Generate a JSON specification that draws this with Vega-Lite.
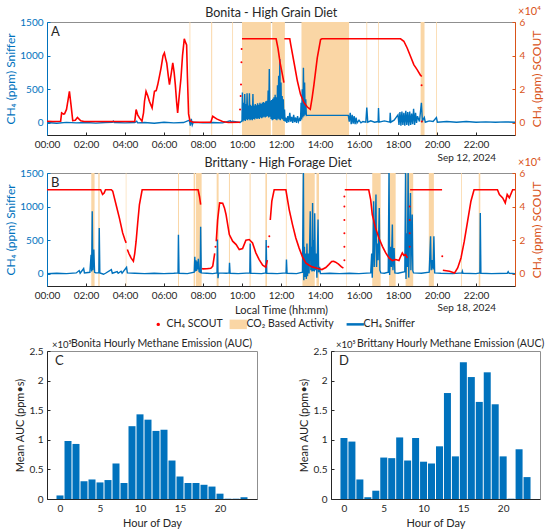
{
  "$schema": "https://vega.github.io/schema/vega-lite/v6.json",
  "padding": {"left": 4, "top": 5, "right": 0, "bottom": 0},
  "background": "white",
  "bounds": "flush",
  "spacing": 0,
  "datasets": {
    "tanA": [
      {"start": 7.31, "end": 7.35}, {"start": 8.42, "end": 8.47}, {"start": 9.5, "end": 9.54},
      {"start": 10.0, "end": 11.48}, {"start": 11.55, "end": 12.2}, {"start": 13.05, "end": 15.49},
      {"start": 16.38, "end": 16.42}, {"start": 16.98, "end": 17.02}, {"start": 19.16, "end": 19.36},
      {"start": 19.95, "end": 19.99}
    ],
    "tanB": [
      {"start": 2.27, "end": 2.44}, {"start": 2.63, "end": 2.7}, {"start": 4.04, "end": 4.07},
      {"start": 6.72, "end": 6.77}, {"start": 7.52, "end": 7.6}, {"start": 7.64, "end": 7.93},
      {"start": 8.7, "end": 8.8}, {"start": 9.33, "end": 9.38}, {"start": 10.39, "end": 10.44},
      {"start": 11.2, "end": 11.28}, {"start": 12.25, "end": 12.29}, {"start": 13.1, "end": 13.73},
      {"start": 13.82, "end": 13.95}, {"start": 15.35, "end": 15.38}, {"start": 16.68, "end": 17.11},
      {"start": 17.54, "end": 17.88}, {"start": 18.39, "end": 18.78}, {"start": 19.58, "end": 19.84},
      {"start": 21.24, "end": 21.28}, {"start": 22.14, "end": 22.22}
    ],
    "snifA": [
      {"t":0,"ppm":5},{"t":0.5,"ppm":-5},{"t":1,"ppm":8},{"t":1.5,"ppm":0},{"t":2,"ppm":5},{"t":2.5,"ppm":-3},{"t":3,"ppm":5},{"t":3.35,"ppm":10},{"t":3.4,"ppm":25},{"t":3.45,"ppm":5},{"t":4,"ppm":0},{"t":4.5,"ppm":5},{"t":4.6,"ppm":25},{"t":4.65,"ppm":0},{"t":5,"ppm":5},{"t":5.5,"ppm":-5},{"t":6,"ppm":10},{"t":6.5,"ppm":0},{"t":7,"ppm":5},{"t":7.3,"ppm":40},{"t":7.35,"ppm":-40},{"t":7.4,"ppm":60},{"t":7.45,"ppm":-30},{"t":7.5,"ppm":10},{"t":8,"ppm":0},{"t":8.5,"ppm":5},{"t":9,"ppm":0},{"t":9.4,"ppm":30},{"t":9.45,"ppm":10},{"t":9.5,"ppm":25},{"t":9.9,"ppm":5},
      {"t":10,"ppm":30},{"t":10.02,"ppm":450},{"t":10.05,"ppm":20},{"t":10.08,"ppm":300},{"t":10.11,"ppm":40},{"t":10.14,"ppm":430},{"t":10.17,"ppm":30},{"t":10.2,"ppm":280},{"t":10.23,"ppm":50},{"t":10.26,"ppm":440},{"t":10.29,"ppm":40},{"t":10.32,"ppm":260},{"t":10.35,"ppm":60},{"t":10.38,"ppm":440},{"t":10.41,"ppm":40},{"t":10.44,"ppm":270},{"t":10.47,"ppm":50},{"t":10.5,"ppm":250},{"t":10.53,"ppm":40},{"t":10.56,"ppm":430},{"t":10.59,"ppm":60},{"t":10.62,"ppm":260},{"t":10.65,"ppm":50},{"t":10.68,"ppm":280},{"t":10.71,"ppm":70},{"t":10.74,"ppm":260},{"t":10.77,"ppm":60},{"t":10.8,"ppm":290},{"t":10.83,"ppm":70},{"t":10.86,"ppm":270},{"t":10.89,"ppm":60},{"t":10.92,"ppm":300},{"t":10.95,"ppm":80},{"t":10.98,"ppm":280},{"t":11.01,"ppm":70},{"t":11.04,"ppm":300},{"t":11.07,"ppm":80},{"t":11.1,"ppm":310},{"t":11.13,"ppm":90},{"t":11.16,"ppm":300},{"t":11.19,"ppm":80},{"t":11.22,"ppm":320},{"t":11.25,"ppm":90},{"t":11.28,"ppm":330},{"t":11.31,"ppm":100},{"t":11.34,"ppm":480},{"t":11.37,"ppm":80},{"t":11.4,"ppm":800},{"t":11.43,"ppm":90},{"t":11.46,"ppm":330},{"t":11.49,"ppm":60},{"t":11.52,"ppm":340},{"t":11.55,"ppm":40},{"t":11.58,"ppm":360},{"t":11.61,"ppm":50},{"t":11.64,"ppm":380},{"t":11.67,"ppm":60},{"t":11.7,"ppm":420},{"t":11.73,"ppm":50},{"t":11.76,"ppm":380},{"t":11.79,"ppm":40},{"t":11.82,"ppm":560},{"t":11.85,"ppm":60},{"t":11.88,"ppm":700},{"t":11.91,"ppm":50},{"t":11.94,"ppm":950},{"t":11.97,"ppm":40},{"t":12,"ppm":600},{"t":12.03,"ppm":60},{"t":12.06,"ppm":400},{"t":12.09,"ppm":50},{"t":12.12,"ppm":350},{"t":12.15,"ppm":30},{"t":12.18,"ppm":200},{"t":12.21,"ppm":20},
      {"t":12.25,"ppm":80},{"t":12.3,"ppm":0},{"t":12.35,"ppm":100},{"t":12.4,"ppm":10},{"t":12.45,"ppm":150},{"t":12.5,"ppm":20},{"t":12.55,"ppm":90},{"t":12.6,"ppm":0},{"t":12.65,"ppm":120},{"t":12.7,"ppm":10},{"t":12.75,"ppm":80},{"t":12.8,"ppm":0},{"t":12.85,"ppm":100},{"t":12.9,"ppm":20},{"t":12.95,"ppm":60},{"t":13,"ppm":30},{"t":13.03,"ppm":300},{"t":13.06,"ppm":50},{"t":13.09,"ppm":500},{"t":13.12,"ppm":80},{"t":13.15,"ppm":820},{"t":13.18,"ppm":100},{"t":13.21,"ppm":600},{"t":13.24,"ppm":120},{"t":13.27,"ppm":350},{"t":13.3,"ppm":110},{"t":13.35,"ppm":112},{"t":15.45,"ppm":112},{"t":15.5,"ppm":20},{"t":15.55,"ppm":150},{"t":15.6,"ppm":-20},{"t":15.65,"ppm":120},{"t":15.7,"ppm":-10},{"t":15.75,"ppm":100},{"t":15.8,"ppm":-20},{"t":15.85,"ppm":80},{"t":15.9,"ppm":0},{"t":16,"ppm":40},{"t":16.1,"ppm":0},{"t":16.2,"ppm":20},{"t":16.35,"ppm":10},{"t":16.4,"ppm":230},{"t":16.45,"ppm":10},{"t":16.6,"ppm":30},{"t":16.8,"ppm":10},{"t":16.98,"ppm":20},{"t":17,"ppm":220},{"t":17.03,"ppm":10},{"t":17.3,"ppm":30},{"t":17.58,"ppm":10},{"t":17.6,"ppm":150},{"t":17.63,"ppm":10},{"t":17.8,"ppm":40},{"t":18,"ppm":120},{"t":18.05,"ppm":-30},{"t":18.1,"ppm":160},{"t":18.15,"ppm":-40},{"t":18.2,"ppm":170},{"t":18.25,"ppm":-30},{"t":18.3,"ppm":150},{"t":18.35,"ppm":-40},{"t":18.4,"ppm":180},{"t":18.45,"ppm":-30},{"t":18.5,"ppm":160},{"t":18.55,"ppm":-40},{"t":18.6,"ppm":170},{"t":18.65,"ppm":-30},{"t":18.7,"ppm":140},{"t":18.75,"ppm":-20},{"t":18.8,"ppm":210},{"t":18.85,"ppm":-30},{"t":18.9,"ppm":150},{"t":18.95,"ppm":0},{"t":19,"ppm":100},{"t":19.1,"ppm":20},{"t":19.2,"ppm":300},{"t":19.25,"ppm":30},{"t":19.35,"ppm":80},{"t":19.4,"ppm":10},{"t":19.6,"ppm":30},{"t":19.8,"ppm":20},{"t":19.97,"ppm":80},{"t":20.02,"ppm":10},{"t":20.5,"ppm":20},{"t":21,"ppm":10},{"t":21.5,"ppm":20},{"t":22,"ppm":10},{"t":22.5,"ppm":15},{"t":23,"ppm":10},{"t":23.5,"ppm":15},{"t":24,"ppm":10}
    ],
    "snifB": [
      {"t":0,"ppm":0},{"t":0.5,"ppm":5},{"t":1,"ppm":0},{"t":1.5,"ppm":10},{"t":1.65,"ppm":45},{"t":1.7,"ppm":5},{"t":1.88,"ppm":75},{"t":1.92,"ppm":10},{"t":2.2,"ppm":20},{"t":2.26,"ppm":280},{"t":2.29,"ppm":30},{"t":2.32,"ppm":930},{"t":2.35,"ppm":50},{"t":2.4,"ppm":360},{"t":2.44,"ppm":20},{"t":2.5,"ppm":10},{"t":2.66,"ppm":10},{"t":2.68,"ppm":680},{"t":2.71,"ppm":10},{"t":2.9,"ppm":-10},{"t":3,"ppm":5},{"t":3.3,"ppm":60},{"t":3.35,"ppm":5},{"t":3.6,"ppm":30},{"t":3.65,"ppm":5},{"t":3.8,"ppm":35},{"t":3.85,"ppm":5},{"t":4.08,"ppm":95},{"t":4.12,"ppm":10},{"t":4.5,"ppm":5},{"t":5,"ppm":0},{"t":5.5,"ppm":5},{"t":6,"ppm":0},{"t":6.5,"ppm":5},{"t":6.72,"ppm":10},{"t":6.74,"ppm":580},{"t":6.77,"ppm":5},{"t":7.2,"ppm":0},{"t":7.55,"ppm":20},{"t":7.58,"ppm":250},{"t":7.61,"ppm":30},{"t":7.64,"ppm":200},{"t":7.67,"ppm":40},{"t":7.7,"ppm":180},{"t":7.73,"ppm":60},{"t":7.76,"ppm":220},{"t":7.8,"ppm":30},{"t":7.86,"ppm":20},{"t":7.88,"ppm":697},{"t":7.91,"ppm":10},{"t":8.2,"ppm":5},{"t":8.5,"ppm":0},{"t":8.72,"ppm":10},{"t":8.74,"ppm":508},{"t":8.77,"ppm":-70},{"t":8.8,"ppm":10},{"t":9.2,"ppm":5},{"t":9.34,"ppm":10},{"t":9.36,"ppm":160},{"t":9.39,"ppm":5},{"t":9.8,"ppm":0},{"t":10.4,"ppm":10},{"t":10.42,"ppm":450},{"t":10.45,"ppm":5},{"t":11,"ppm":0},{"t":11.22,"ppm":10},{"t":11.24,"ppm":500},{"t":11.27,"ppm":5},{"t":11.8,"ppm":0},{"t":12.26,"ppm":10},{"t":12.28,"ppm":210},{"t":12.31,"ppm":5},{"t":12.8,"ppm":0},{"t":13.1,"ppm":20},{"t":13.15,"ppm":1600},{"t":13.17,"ppm":-100},{"t":13.2,"ppm":400},{"t":13.23,"ppm":-50},{"t":13.27,"ppm":300},{"t":13.3,"ppm":-80},{"t":13.33,"ppm":450},{"t":13.36,"ppm":-40},{"t":13.4,"ppm":300},{"t":13.44,"ppm":0},{"t":13.5,"ppm":930},{"t":13.53,"ppm":50},{"t":13.56,"ppm":400},{"t":13.59,"ppm":30},{"t":13.62,"ppm":1054},{"t":13.65,"ppm":40},{"t":13.68,"ppm":500},{"t":13.71,"ppm":30},{"t":13.73,"ppm":900},{"t":13.76,"ppm":50},{"t":13.8,"ppm":300},{"t":13.84,"ppm":-60},{"t":13.9,"ppm":806},{"t":13.93,"ppm":20},{"t":13.98,"ppm":100},{"t":14.02,"ppm":0},{"t":14.5,"ppm":5},{"t":15,"ppm":0},{"t":15.5,"ppm":5},{"t":16,"ppm":0},{"t":16.6,"ppm":10},{"t":16.65,"ppm":300},{"t":16.68,"ppm":-60},{"t":16.72,"ppm":400},{"t":16.75,"ppm":1079},{"t":16.78,"ppm":100},{"t":16.82,"ppm":500},{"t":16.87,"ppm":1179},{"t":16.9,"ppm":100},{"t":16.94,"ppm":450},{"t":16.98,"ppm":200},{"t":17.04,"ppm":979},{"t":17.07,"ppm":50},{"t":17.12,"ppm":10},{"t":17.3,"ppm":5},{"t":17.5,"ppm":20},{"t":17.54,"ppm":1600},{"t":17.57,"ppm":-20},{"t":17.62,"ppm":400},{"t":17.66,"ppm":100},{"t":17.71,"ppm":731},{"t":17.74,"ppm":50},{"t":17.8,"ppm":380},{"t":17.84,"ppm":10},{"t":18,"ppm":5},{"t":18.35,"ppm":30},{"t":18.39,"ppm":1600},{"t":18.41,"ppm":-80},{"t":18.45,"ppm":600},{"t":18.48,"ppm":100},{"t":18.52,"ppm":1600},{"t":18.55,"ppm":-60},{"t":18.6,"ppm":700},{"t":18.64,"ppm":1200},{"t":18.66,"ppm":50},{"t":18.73,"ppm":881},{"t":18.76,"ppm":40},{"t":18.8,"ppm":10},{"t":19.2,"ppm":5},{"t":19.6,"ppm":20},{"t":19.67,"ppm":557},{"t":19.7,"ppm":50},{"t":19.75,"ppm":200},{"t":19.8,"ppm":60},{"t":19.84,"ppm":557},{"t":19.88,"ppm":10},{"t":20.2,"ppm":5},{"t":20.8,"ppm":0},{"t":21.28,"ppm":10},{"t":21.3,"ppm":35},{"t":21.33,"ppm":5},{"t":22,"ppm":0},{"t":22.2,"ppm":10},{"t":22.22,"ppm":905},{"t":22.25,"ppm":5},{"t":22.8,"ppm":0},{"t":23.6,"ppm":5},{"t":23.65,"ppm":30},{"t":23.7,"ppm":5},{"t":24,"ppm":0}
    ],
    "scoutA": [
      {"t":0,"ppm":1000,"seg":"a1"},{"t":0.3,"ppm":800,"seg":"a1"},{"t":0.7,"ppm":1000,"seg":"a1"},{"t":0.75,"ppm":5960,"seg":"a1"},{"t":0.85,"ppm":5200,"seg":"a1"},{"t":0.9,"ppm":5360,"seg":"a1"},{"t":1,"ppm":8000,"seg":"a1"},{"t":1.07,"ppm":12880,"seg":"a1"},{"t":1.15,"ppm":18800,"seg":"a1"},{"t":1.23,"ppm":10880,"seg":"a1"},{"t":1.32,"ppm":1400,"seg":"a1"},{"t":1.45,"ppm":1600,"seg":"a1"},{"t":1.56,"ppm":3200,"seg":"a1"},{"t":1.73,"ppm":1200,"seg":"a1"},{"t":1.9,"ppm":800,"seg":"a1"},{"t":2.5,"ppm":800,"seg":"a1"},{"t":3,"ppm":800,"seg":"a1"},{"t":3.5,"ppm":800,"seg":"a1"},{"t":4,"ppm":800,"seg":"a1"},{"t":4.5,"ppm":800,"seg":"a1"},{"t":4.57,"ppm":7920,"seg":"a1"},{"t":4.65,"ppm":4800,"seg":"a1"},{"t":4.74,"ppm":2960,"seg":"a1"},{"t":4.87,"ppm":1000,"seg":"a1"},{"t":4.95,"ppm":6000,"seg":"a1"},{"t":5,"ppm":12880,"seg":"a1"},{"t":5.08,"ppm":18800,"seg":"a1"},{"t":5.17,"ppm":16000,"seg":"a1"},{"t":5.25,"ppm":12880,"seg":"a1"},{"t":5.39,"ppm":8920,"seg":"a1"},{"t":5.45,"ppm":14000,"seg":"a1"},{"t":5.51,"ppm":18800,"seg":"a1"},{"t":5.6,"ppm":19200,"seg":"a1"},{"t":5.68,"ppm":22800,"seg":"a1"},{"t":5.77,"ppm":28000,"seg":"a1"},{"t":5.85,"ppm":32720,"seg":"a1"},{"t":5.95,"ppm":40000,"seg":"a1"},{"t":6.02,"ppm":41600,"seg":"a1"},{"t":6.08,"ppm":38400,"seg":"a1"},{"t":6.14,"ppm":35640,"seg":"a1"},{"t":6.22,"ppm":28000,"seg":"a1"},{"t":6.28,"ppm":22800,"seg":"a1"},{"t":6.38,"ppm":30000,"seg":"a1"},{"t":6.45,"ppm":35640,"seg":"a1"},{"t":6.52,"ppm":30000,"seg":"a1"},{"t":6.58,"ppm":22800,"seg":"a1"},{"t":6.65,"ppm":12000,"seg":"a1"},{"t":6.7,"ppm":6000,"seg":"a1"},{"t":6.78,"ppm":16000,"seg":"a1"},{"t":6.87,"ppm":26560,"seg":"a1"},{"t":6.95,"ppm":40000,"seg":"a1"},{"t":7.04,"ppm":50000,"seg":"a1"},{"t":7.1,"ppm":48000,"seg":"a1"},{"t":7.16,"ppm":46400,"seg":"a1"},{"t":7.2,"ppm":28000,"seg":"a1"},{"t":7.26,"ppm":5360,"seg":"a1"},{"t":7.33,"ppm":1200,"seg":"a1"},{"t":7.5,"ppm":400,"seg":"a1"},{"t":8,"ppm":400,"seg":"a1"},{"t":8.4,"ppm":400,"seg":"a1"},{"t":8.5,"ppm":3960,"seg":"a1"},{"t":8.7,"ppm":2400,"seg":"a1"},{"t":9,"ppm":800,"seg":"a1"},{"t":9.3,"ppm":200,"seg":"a1"},{"t":9.9,"ppm":400,"seg":"a1"},
      {"t":10,"ppm":50000,"seg":"a2"},{"t":11.75,"ppm":50000,"seg":"a2"},{"t":11.85,"ppm":44000,"seg":"a2"},{"t":11.95,"ppm":36000,"seg":"a2"},{"t":12.05,"ppm":30000,"seg":"a2"},{"t":12.15,"ppm":24000,"seg":"a2"},
      {"t":12.17,"ppm":50000,"seg":"a3"},{"t":12.45,"ppm":50000,"seg":"a3"},{"t":12.5,"ppm":46600,"seg":"a3"},{"t":12.67,"ppm":35760,"seg":"a3"},{"t":12.84,"ppm":24880,"seg":"a3"},{"t":13,"ppm":16960,"seg":"a3"},{"t":13.18,"ppm":12000,"seg":"a3"},{"t":13.35,"ppm":9440,"seg":"a3"},{"t":13.5,"ppm":8080,"seg":"a3"},{"t":13.6,"ppm":15200,"seg":"a3"},{"t":13.69,"ppm":22800,"seg":"a3"},{"t":13.86,"ppm":38640,"seg":"a3"},{"t":14.03,"ppm":49520,"seg":"a3"},{"t":14.1,"ppm":50000,"seg":"a3"},{"t":18.13,"ppm":50000,"seg":"a3"},{"t":18.3,"ppm":48560,"seg":"a3"},{"t":18.47,"ppm":44560,"seg":"a3"},{"t":18.64,"ppm":39640,"seg":"a3"},{"t":18.81,"ppm":34680,"seg":"a3"},{"t":18.98,"ppm":31720,"seg":"a3"},{"t":19.15,"ppm":28360,"seg":"a3"},{"t":19.22,"ppm":27600,"seg":"a3"}
    ],
    "dotsA": [
      {"t":9.9,"ppm":7960},{"t":9.93,"ppm":16000},{"t":9.95,"ppm":22800},{"t":9.97,"ppm":36000},{"t":9.98,"ppm":44000},{"t":19.21,"ppm":22400},{"t":19.22,"ppm":800}
    ],
    "scoutB": [
      {"t":0,"ppm":50000,"seg":"b1"},{"t":2.75,"ppm":50000,"seg":"b1"},{"t":2.85,"ppm":47200,"seg":"b1"},{"t":2.93,"ppm":48000,"seg":"b1"},{"t":3,"ppm":50000,"seg":"b1"},{"t":3.3,"ppm":50000,"seg":"b1"},{"t":3.37,"ppm":49200,"seg":"b1"},{"t":3.54,"ppm":41200,"seg":"b1"},{"t":3.71,"ppm":33240,"seg":"b1"},{"t":3.88,"ppm":24280,"seg":"b1"},{"t":4,"ppm":20000,"seg":"b1"},{"t":4.06,"ppm":18320,"seg":"b1"},
      {"t":4.12,"ppm":14400,"seg":"b2"},{"t":4.2,"ppm":12000,"seg":"b2"},{"t":4.31,"ppm":9360,"seg":"b2"},{"t":4.43,"ppm":7360,"seg":"b2"},{"t":4.5,"ppm":12000,"seg":"b2"},{"t":4.57,"ppm":19320,"seg":"b2"},{"t":4.65,"ppm":30000,"seg":"b2"},{"t":4.74,"ppm":41200,"seg":"b2"},{"t":4.88,"ppm":50000,"seg":"b2"},{"t":7.75,"ppm":50000,"seg":"b2"},{"t":7.82,"ppm":46000,"seg":"b2"},{"t":7.88,"ppm":41200,"seg":"b2"},
      {"t":7.94,"ppm":3000,"seg":"b3"},{"t":8,"ppm":2800,"seg":"b3"},{"t":8.2,"ppm":2880,"seg":"b3"},{"t":8.4,"ppm":3200,"seg":"b3"},{"t":8.5,"ppm":4400,"seg":"b3"},{"t":8.6,"ppm":12000,"seg":"b3"},
      {"t":8.68,"ppm":19320,"seg":"b4"},{"t":8.75,"ppm":32000,"seg":"b4"},{"t":8.85,"ppm":42200,"seg":"b4"},{"t":9.01,"ppm":42000,"seg":"b4"},{"t":9.1,"ppm":39200,"seg":"b4"},{"t":9.18,"ppm":35280,"seg":"b4"},{"t":9.35,"ppm":23280,"seg":"b4"},{"t":9.52,"ppm":19320,"seg":"b4"},{"t":9.7,"ppm":17320,"seg":"b4"},{"t":9.86,"ppm":14320,"seg":"b4"},{"t":10.03,"ppm":14920,"seg":"b4"},{"t":10.2,"ppm":19920,"seg":"b4"},{"t":10.37,"ppm":20320,"seg":"b4"},{"t":10.54,"ppm":18320,"seg":"b4"},{"t":10.71,"ppm":12360,"seg":"b4"},{"t":10.88,"ppm":8360,"seg":"b4"},{"t":11.06,"ppm":4960,"seg":"b4"},{"t":11.22,"ppm":3800,"seg":"b4"},{"t":11.3,"ppm":8000,"seg":"b4"},
      {"t":11.45,"ppm":32000,"seg":"b5"},{"t":11.53,"ppm":43200,"seg":"b5"},{"t":11.65,"ppm":50000,"seg":"b5"},{"t":12.25,"ppm":50000,"seg":"b5"},{"t":12.42,"ppm":38200,"seg":"b5"},{"t":12.59,"ppm":29240,"seg":"b5"},{"t":12.76,"ppm":21240,"seg":"b5"},{"t":12.93,"ppm":15200,"seg":"b5"},{"t":13.1,"ppm":10000,"seg":"b5"},{"t":13.27,"ppm":6320,"seg":"b5"},{"t":13.44,"ppm":4960,"seg":"b5"},{"t":13.6,"ppm":4000,"seg":"b5"},{"t":13.8,"ppm":3360,"seg":"b5"},{"t":14.1,"ppm":2400,"seg":"b5"},{"t":14.3,"ppm":3600,"seg":"b5"},{"t":14.45,"ppm":5360,"seg":"b5"},{"t":14.6,"ppm":7200,"seg":"b5"},{"t":14.7,"ppm":7360,"seg":"b5"},{"t":14.8,"ppm":6800,"seg":"b5"},{"t":14.95,"ppm":5600,"seg":"b5"},{"t":15.1,"ppm":4000,"seg":"b5"},{"t":15.2,"ppm":3360,"seg":"b5"},
      {"t":15.27,"ppm":50000,"seg":"b6"},{"t":16.5,"ppm":50000,"seg":"b6"},{"t":16.6,"ppm":44000,"seg":"b6"},{"t":16.68,"ppm":35240,"seg":"b6"},{"t":16.85,"ppm":27240,"seg":"b6"},{"t":17.02,"ppm":21240,"seg":"b6"},{"t":17.2,"ppm":16280,"seg":"b6"},{"t":17.37,"ppm":12320,"seg":"b6"},{"t":17.54,"ppm":9320,"seg":"b6"},{"t":17.71,"ppm":7760,"seg":"b6"},{"t":17.88,"ppm":8360,"seg":"b6"},{"t":18.05,"ppm":7760,"seg":"b6"},{"t":18.14,"ppm":10320,"seg":"b6"},{"t":18.22,"ppm":12320,"seg":"b6"},{"t":18.3,"ppm":10800,"seg":"b6"},{"t":18.39,"ppm":11320,"seg":"b6"},{"t":18.48,"ppm":9320,"seg":"b6"},
      {"t":18.62,"ppm":50000,"seg":"b7"},{"t":20.26,"ppm":50000,"seg":"b7"},
      {"t":20.3,"ppm":1960,"seg":"b8"},{"t":20.64,"ppm":1360,"seg":"b8"},{"t":20.9,"ppm":360,"seg":"b8"},{"t":21.06,"ppm":3360,"seg":"b8"},{"t":21.23,"ppm":9320,"seg":"b8"},{"t":21.4,"ppm":19320,"seg":"b8"},{"t":21.57,"ppm":31240,"seg":"b8"},{"t":21.74,"ppm":43200,"seg":"b8"},{"t":21.9,"ppm":50000,"seg":"b8"},{"t":23.1,"ppm":50000,"seg":"b8"},{"t":23.2,"ppm":47160,"seg":"b8"},{"t":23.37,"ppm":45160,"seg":"b8"},{"t":23.5,"ppm":42200,"seg":"b8"},{"t":23.6,"ppm":47160,"seg":"b8"},{"t":23.71,"ppm":45200,"seg":"b8"},{"t":23.88,"ppm":50000,"seg":"b8"},{"t":24,"ppm":50000,"seg":"b8"}
    ],
    "dotsB": [
      {"t":8.64,"ppm":16000},{"t":11.35,"ppm":16000},{"t":11.4,"ppm":22320},
      {"t":15.25,"ppm":8000},{"t":15.25,"ppm":16000},{"t":15.25,"ppm":24000},{"t":15.25,"ppm":32000},{"t":15.25,"ppm":40000},{"t":15.25,"ppm":46000},
      {"t":18.6,"ppm":16000},{"t":18.6,"ppm":24000},{"t":18.6,"ppm":32000},{"t":18.6,"ppm":40000},
      {"t":20.27,"ppm":10320}
    ],
    "aucA": [
      {"hour":0,"auc":6000},{"hour":1,"auc":98000},{"hour":2,"auc":93000},{"hour":3,"auc":30000},{"hour":4,"auc":33000},{"hour":5,"auc":28000},{"hour":6,"auc":32000},{"hour":7,"auc":60000},{"hour":8,"auc":27000},{"hour":9,"auc":123000},{"hour":10,"auc":143000},{"hour":11,"auc":134000},{"hour":12,"auc":115000},{"hour":13,"auc":117000},{"hour":14,"auc":65000},{"hour":15,"auc":38000},{"hour":16,"auc":27000},{"hour":17,"auc":27000},{"hour":18,"auc":24000},{"hour":19,"auc":21000},{"hour":20,"auc":9000},{"hour":21,"auc":500},{"hour":22,"auc":500},{"hour":23,"auc":3000}
    ],
    "aucB": [
      {"hour":0,"auc":103000},{"hour":1,"auc":97000},{"hour":2,"auc":33000},{"hour":3,"auc":3000},{"hour":4,"auc":14000},{"hour":5,"auc":70000},{"hour":6,"auc":69000},{"hour":7,"auc":104000},{"hour":8,"auc":65000},{"hour":9,"auc":103000},{"hour":10,"auc":63000},{"hour":11,"auc":60000},{"hour":12,"auc":89000},{"hour":13,"auc":179000},{"hour":14,"auc":72000},{"hour":15,"auc":231000},{"hour":16,"auc":206000},{"hour":17,"auc":164000},{"hour":18,"auc":214000},{"hour":19,"auc":160000},{"hour":20,"auc":72000},{"hour":21,"auc":500},{"hour":22,"auc":84000},{"hour":23,"auc":37000}
    ]
  },
  "vconcat": [
    {
      "width": 468,
      "height": 113,
      "layer": [
        {
          "layer": [
            {
              "data": {"name": "tanA"},
              "mark": {"type": "rect"},
              "encoding": {
                "x": {"field": "start", "type": "quantitative", "scale": {"domain": [0, 24], "nice": false, "zero": false},
                      "axis": {"values": [0, 2, 4, 6, 8, 10, 12, 14, 16, 18, 20, 22], "tickCount": 30, "labelExpr": "(datum.value < 10 ? '0' : '') + datum.value + ':00'", "title": null}},
                "x2": {"field": "end"},
                "color": {"datum": "CO₂ Based Activity", "type": "nominal",
                          "scale": {"domain": ["CH₄ SCOUT", "CO₂ Based Activity", "CH₄ Sniffer"], "range": ["#FF0000", "#FAD6A5", "#0072BD"]},
                          "legend": null}
              }
            },
            {
              "data": {"name": "snifA"},
              "mark": {"type": "line", "clip": true, "strokeWidth": 1.4},
              "encoding": {
                "x": {"field": "t", "type": "quantitative"},
                "y": {"field": "ppm", "type": "quantitative", "scale": {"domain": [-180, 1500], "nice": false, "zero": false},
                      "axis": {"values": [0, 500, 1000, 1500], "tickCount": 10, "format": "d", "title": "CH₄  (ppm) Sniffer", "titleFontSize": 12, "titlePadding": 2,
                               "titleColor": "#0072BD", "labelColor": "#0072BD", "domainColor": "#0072BD", "tickColor": "#0072BD"}},
                "color": {"datum": "CH₄ Sniffer", "type": "nominal"}
              }
            },
            {
              "data": {"values": [{"label": "A"}]},
              "mark": {"type": "text", "align": "left", "baseline": "middle", "dy": 10, "fontSize": 13, "color": "#262626"},
              "encoding": {"text": {"field": "label"}, "x": {"datum": 0.2, "type": "quantitative"}, "y": {"datum": 1500, "type": "quantitative"}}
            },
            {
              "data": {"values": [{"label": "Bonita -  High Grain Diet"}]},
              "mark": {"type": "text", "align": "center", "baseline": "middle", "dy": -9, "fontSize": 12.5, "color": "#262626"},
              "encoding": {"text": {"field": "label"}, "x": {"datum": 11.5, "type": "quantitative"}, "y": {"datum": 1500, "type": "quantitative"}}
            },
            {
              "data": {"values": [{"label": "Sep 12, 2024"}]},
              "mark": {"type": "text", "align": "right", "baseline": "middle", "dx": -19, "dy": 23, "fontSize": 10, "color": "#262626"},
              "encoding": {"text": {"field": "label"}, "x": {"datum": 24, "type": "quantitative"}, "y": {"datum": -180, "type": "quantitative"}}
            }
          ]
        },
        {
          "layer": [
            {
              "data": {"name": "scoutA"},
              "mark": {"type": "line", "clip": true, "strokeWidth": 1.6},
              "encoding": {
                "x": {"field": "t", "type": "quantitative"},
                "y": {"field": "ppm", "type": "quantitative", "scale": {"domain": [-7200, 60000], "nice": false, "zero": false},
                      "axis": {"orient": "right", "values": [0, 20000, 40000, 60000], "tickCount": 10, "labelExpr": "format(datum.value / 10000, 'd')", "title": "CH₄  (ppm) SCOUT", "titleAngle": 270, "titleFontSize": 12, "titlePadding": 19,
                               "titleColor": "#D95319", "labelColor": "#D95319", "domainColor": "#D95319", "tickColor": "#D95319"}},
                "detail": {"field": "seg"},
                "color": {"datum": "CH₄ SCOUT", "type": "nominal"}
              }
            },
            {
              "data": {"name": "dotsA"},
              "mark": {"type": "point", "filled": true, "size": 4, "opacity": 1},
              "encoding": {
                "x": {"field": "t", "type": "quantitative"},
                "y": {"field": "ppm", "type": "quantitative"},
                "color": {"datum": "CH₄ SCOUT", "type": "nominal"}
              }
            },
            {
              "data": {"values": [{"label": "×10⁴"}]},
              "mark": {"type": "text", "align": "left", "baseline": "middle", "dx": 3, "dy": -10, "fontSize": 11, "color": "#D95319"},
              "encoding": {"text": {"field": "label"}, "x": {"datum": 24, "type": "quantitative"}, "y": {"datum": 60000, "type": "quantitative"}}
            }
          ]
        }
      ],
      "resolve": {"scale": {"y": "independent"}}
    },
    {
      "width": 468,
      "height": 38,
      "data": {"values": []},
      "mark": {"type": "point", "opacity": 0},
      "view": {"stroke": null}
    },
    {
      "width": 468,
      "height": 113,
      "layer": [
        {
          "layer": [
            {
              "data": {"name": "tanB"},
              "mark": {"type": "rect"},
              "encoding": {
                "x": {"field": "start", "type": "quantitative", "scale": {"domain": [0, 24], "nice": false, "zero": false},
                      "axis": {"values": [0, 2, 4, 6, 8, 10, 12, 14, 16, 18, 20, 22], "tickCount": 30, "labelExpr": "(datum.value < 10 ? '0' : '') + datum.value + ':00'", "title": "Local Time (hh:mm)", "titlePadding": 4}},
                "x2": {"field": "end"},
                "color": {"datum": "CO₂ Based Activity", "type": "nominal",
                          "scale": {"domain": ["CH₄ SCOUT", "CO₂ Based Activity", "CH₄ Sniffer"], "range": ["#FF0000", "#FAD6A5", "#0072BD"]},
                          "legend": {
                            "orient": "none", "legendX": 106, "legendY": 146, "direction": "horizontal", "title": null,
                            "labelFontSize": 10.5, "labelColor": "#262626", "columnPadding": 6, "labelOffset": 3, "symbolSize": 300,
                            "encode": {
                              "symbols": {
                                "update": {
                                  "shape": {"signal": "datum.value === 'CH₄ Sniffer' ? 'stroke' : datum.value === 'CO₂ Based Activity' ? 'M-1,-0.55H1V0.55H-1Z' : 'circle'"},
                                  "size": {"signal": "datum.value === 'CH₄ SCOUT' ? 12 : 300"},
                                  "fill": {"signal": "datum.value === 'CH₄ SCOUT' ? '#FF0000' : datum.value === 'CO₂ Based Activity' ? '#FAD6A5' : 'transparent'"},
                                  "stroke": {"signal": "datum.value === 'CH₄ Sniffer' ? '#0072BD' : 'transparent'"},
                                  "strokeWidth": {"signal": "datum.value === 'CH₄ Sniffer' ? 2.5 : 0"},
                                  "opacity": {"value": 1}
                                }
                              }
                            }
                          }}
              }
            },
            {
              "data": {"name": "snifB"},
              "mark": {"type": "line", "clip": true, "strokeWidth": 1.4},
              "encoding": {
                "x": {"field": "t", "type": "quantitative"},
                "y": {"field": "ppm", "type": "quantitative", "scale": {"domain": [-185, 1500], "nice": false, "zero": false},
                      "axis": {"values": [0, 500, 1000, 1500], "tickCount": 10, "format": "d", "title": "CH₄  (ppm) Sniffer", "titleFontSize": 12, "titlePadding": 2,
                               "titleColor": "#0072BD", "labelColor": "#0072BD", "domainColor": "#0072BD", "tickColor": "#0072BD"}},
                "color": {"datum": "CH₄ Sniffer", "type": "nominal"}
              }
            },
            {
              "data": {"values": [{"label": "B"}]},
              "mark": {"type": "text", "align": "left", "baseline": "middle", "dy": 10, "fontSize": 13, "color": "#262626"},
              "encoding": {"text": {"field": "label"}, "x": {"datum": 0.2, "type": "quantitative"}, "y": {"datum": 1500, "type": "quantitative"}}
            },
            {
              "data": {"values": [{"label": "Brittany - High Forage Diet"}]},
              "mark": {"type": "text", "align": "center", "baseline": "middle", "dy": -10, "fontSize": 12.5, "color": "#262626"},
              "encoding": {"text": {"field": "label"}, "x": {"datum": 11.85, "type": "quantitative"}, "y": {"datum": 1500, "type": "quantitative"}}
            },
            {
              "data": {"values": [{"label": "Sep 18, 2024"}]},
              "mark": {"type": "text", "align": "right", "baseline": "middle", "dx": -19, "dy": 22, "fontSize": 10, "color": "#262626"},
              "encoding": {"text": {"field": "label"}, "x": {"datum": 24, "type": "quantitative"}, "y": {"datum": -185, "type": "quantitative"}}
            }
          ]
        },
        {
          "layer": [
            {
              "data": {"name": "scoutB"},
              "mark": {"type": "line", "clip": true, "strokeWidth": 1.6},
              "encoding": {
                "x": {"field": "t", "type": "quantitative"},
                "y": {"field": "ppm", "type": "quantitative", "scale": {"domain": [-7400, 60000], "nice": false, "zero": false},
                      "axis": {"orient": "right", "values": [0, 20000, 40000, 60000], "tickCount": 10, "labelExpr": "format(datum.value / 10000, 'd')", "title": "CH₄  (ppm) SCOUT", "titleAngle": 270, "titleFontSize": 12, "titlePadding": 19,
                               "titleColor": "#D95319", "labelColor": "#D95319", "domainColor": "#D95319", "tickColor": "#D95319"}},
                "detail": {"field": "seg"},
                "color": {"datum": "CH₄ SCOUT", "type": "nominal"}
              }
            },
            {
              "data": {"name": "dotsB"},
              "mark": {"type": "point", "filled": true, "size": 4, "opacity": 1},
              "encoding": {
                "x": {"field": "t", "type": "quantitative"},
                "y": {"field": "ppm", "type": "quantitative"},
                "color": {"datum": "CH₄ SCOUT", "type": "nominal"}
              }
            },
            {
              "data": {"values": [{"label": "×10⁴"}]},
              "mark": {"type": "text", "align": "left", "baseline": "middle", "dx": 3, "dy": -10, "fontSize": 11, "color": "#D95319"},
              "encoding": {"text": {"field": "label"}, "x": {"datum": 24, "type": "quantitative"}, "y": {"datum": 60000, "type": "quantitative"}}
            }
          ]
        }
      ],
      "resolve": {"scale": {"y": "independent"}}
    },
    {
      "width": 468,
      "height": 64.5,
      "data": {"values": []},
      "mark": {"type": "point", "opacity": 0},
      "view": {"stroke": null}
    },
    {
      "bounds": "flush",
      "spacing": 74,
      "hconcat": [
        {
          "width": 210,
          "height": 148,
          "layer": [
            {
              "data": {"name": "aucA"},
              "mark": {"type": "bar", "width": 7, "color": "#0072BD"},
              "encoding": {
                "x": {"field": "hour", "type": "quantitative", "scale": {"domain": [-1, 24], "nice": false, "zero": false},
                      "axis": {"values": [0, 5, 10, 15, 20], "tickCount": 10, "title": "Hour of Day", "titlePadding": 4}},
                "y": {"field": "auc", "type": "quantitative", "scale": {"domain": [0, 250000], "nice": false},
                      "axis": {"values": [0, 50000, 100000, 150000, 200000, 250000], "tickCount": 10, "labelExpr": "format(datum.value / 100000, '~g')", "title": "Mean AUC (ppm•s)", "titlePadding": 4}}
              }
            },
            {
              "data": {"values": [{"label": "C"}]},
              "mark": {"type": "text", "align": "left", "baseline": "middle", "dx": 3, "dy": 10, "fontSize": 13, "color": "#262626"},
              "encoding": {"text": {"field": "label"}, "x": {"datum": -1, "type": "quantitative"}, "y": {"datum": 250000, "type": "quantitative"}}
            },
            {
              "data": {"values": [{"label": "×10⁵"}]},
              "mark": {"type": "text", "align": "left", "baseline": "middle", "dy": -6, "fontSize": 9.5, "color": "#262626"},
              "encoding": {"text": {"field": "label"}, "x": {"datum": -1, "type": "quantitative"}, "y": {"datum": 250000, "type": "quantitative"}}
            },
            {
              "data": {"values": [{"label": "Bonita Hourly Methane Emission (AUC)"}]},
              "mark": {"type": "text", "align": "left", "baseline": "middle", "dx": 19, "dy": -7, "fontSize": 10.5, "color": "#262626"},
              "encoding": {"text": {"field": "label"}, "x": {"datum": -1, "type": "quantitative"}, "y": {"datum": 250000, "type": "quantitative"}}
            }
          ]
        },
        {
          "width": 209,
          "height": 148,
          "layer": [
            {
              "data": {"name": "aucB"},
              "mark": {"type": "bar", "width": 7, "color": "#0072BD"},
              "encoding": {
                "x": {"field": "hour", "type": "quantitative", "scale": {"domain": [-1, 24], "nice": false, "zero": false},
                      "axis": {"values": [0, 5, 10, 15, 20], "tickCount": 10, "title": "Hour of Day", "titlePadding": 4}},
                "y": {"field": "auc", "type": "quantitative", "scale": {"domain": [0, 250000], "nice": false},
                      "axis": {"values": [0, 50000, 100000, 150000, 200000, 250000], "tickCount": 10, "labelExpr": "format(datum.value / 100000, '~g')", "title": "Mean AUC (ppm•s)", "titlePadding": 4}}
              }
            },
            {
              "data": {"values": [{"label": "D"}]},
              "mark": {"type": "text", "align": "left", "baseline": "middle", "dx": 3, "dy": 10, "fontSize": 13, "color": "#262626"},
              "encoding": {"text": {"field": "label"}, "x": {"datum": -1, "type": "quantitative"}, "y": {"datum": 250000, "type": "quantitative"}}
            },
            {
              "data": {"values": [{"label": "×10⁵"}]},
              "mark": {"type": "text", "align": "left", "baseline": "middle", "dy": -6, "fontSize": 9.5, "color": "#262626"},
              "encoding": {"text": {"field": "label"}, "x": {"datum": -1, "type": "quantitative"}, "y": {"datum": 250000, "type": "quantitative"}}
            },
            {
              "data": {"values": [{"label": "Brittany Hourly Methane Emission (AUC)"}]},
              "mark": {"type": "text", "align": "left", "baseline": "middle", "dx": 21, "dy": -7, "fontSize": 10.5, "color": "#262626"},
              "encoding": {"text": {"field": "label"}, "x": {"datum": -1, "type": "quantitative"}, "y": {"datum": 250000, "type": "quantitative"}}
            }
          ]
        }
      ]
    }
  ],
  "resolve": {"scale": {"color": "independent"}, "legend": {"color": "independent"}},
  "config": {
    "font": "Lato",
    "view": {"stroke": "#8f8f8f"},
    "axis": {
      "grid": false, "labelFontSize": 10, "titleFontSize": 11, "titleFontWeight": "normal",
      "labelColor": "#262626", "titleColor": "#262626", "domainColor": "#262626", "tickColor": "#262626",
      "tickSize": -3, "labelPadding": 7, "labelFlush": false, "labelOverlap": false, "zindex": 1
    },
    "text": {"font": "Lato"}
  }
}
